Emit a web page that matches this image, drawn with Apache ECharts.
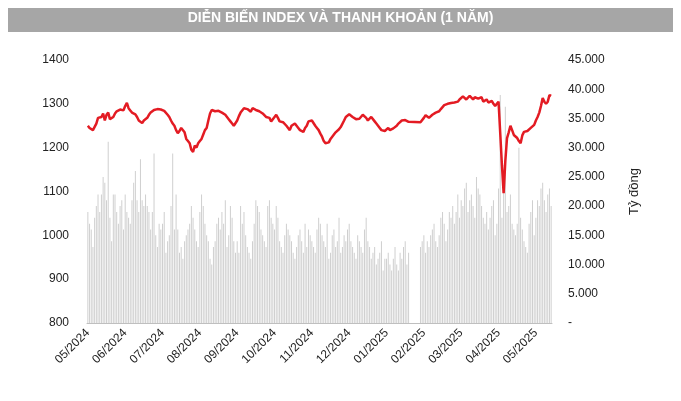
<!DOCTYPE html>
<html><head><meta charset="utf-8">
<script src="https://cdn.jsdelivr.net/npm/echarts@6/dist/echarts.min.js"></script>
<style>html,body{margin:0;background:#fff}#c{width:681px;height:401px}</style>
</head><body><div id="c"></div>
<script>
// Monthly blocks of trading days (VN-Index and turnover, bn VND)
const months = ['05/2024','06/2024','07/2024','08/2024','09/2024','10/2024','11/2024','12/2024','01/2025','02/2025','03/2025','04/2025','05/2025']
const indexByMonth = [
  [1250,1245,1242,1240,1243,1255,1268,1272,1270,1278,1262,1275,1280,1265,1262,1270,1278,1283,1285,1287,1290,1285],
  [1295,1302,1290,1285,1280,1283,1276,1270,1262,1258,1256,1262,1260,1268,1275,1280,1283,1286,1285,1288,1286,1287],
  [1288,1284,1280,1275,1270,1262,1255,1250,1240,1233,1238,1245,1242,1235,1220,1215,1210,1195,1190,1205,1200,1210],
  [1215,1220,1230,1240,1245,1262,1278,1286,1284,1283,1282,1284,1283,1280,1278,1275,1270,1265,1260,1255,1250,1252],
  [1262,1272,1280,1283,1290,1293,1288,1285,1282,1290,1288,1286,1285,1283,1280,1278,1275,1270,1272,1268,1260,1265],
  [1270,1275,1268,1260,1262,1258,1255,1250,1245,1240,1250,1253,1255,1250,1245,1240,1238,1236,1245,1250,1260,1263],
  [1262,1258,1250,1245,1240,1232,1225,1215,1210,1206,1212,1220,1225,1230,1235,1238,1242,1247,1250,1262,1270,1274],
  [1276,1272,1270,1266,1265,1262,1266,1270,1275,1273,1268,1262,1266,1270,1266,1260,1255,1250,1245,1240,1236,1238],
  [1242,1245,1240,1236,1244,1248,1250,1255,1258,1262,1260,1263,1261,1259,null,null,null,null,null,null,1258,1256],
  [1268,1274,1270,1268,1272,1275,1278,1280,1279,1283,1288,1292,1297,1298,1300,1298,1302,1305,1303,1307,1305,1310],
  [1312,1317,1315,1310,1312,1318,1314,1310,1315,1318,1312,1310,1315,1305,1308,1310,1303,1300,1307,1300,1295,1300],
  [1305,1233,1160,1096,1170,1222,1235,1250,1240,1229,1225,1222,1215,1210,1228,1236,1240,1238,1240,1245,1248,1252],
  [1262,1270,1280,1295,1313,1305,1300,1305,1320,1318]
]
const volumeByMonth = [
  [19,17,16,13,18,20,22,19,22,25,24,21,31,18,14,22,22,19,17,20,21,16],
  [22,19,18,17,21,24,26,21,19,28,21,20,22,20,19,16,19,29,15,13,17,16],
  [17,19,12,14,15,20,29,16,22,16,12,13,11,14,15,16,17,20,18,16,14,13],
  [19,22,20,17,15,14,11,10,13,14,17,18,16,19,17,21,13,15,20,18,14,12],
  [14,12,20,17,19,15,13,12,11,14,17,21,20,19,16,15,14,13,20,21,18,17],
  [16,20,18,14,13,12,15,17,16,15,14,12,11,13,15,16,14,12,17,13,16,15],
  [14,13,12,16,18,17,15,14,13,17,11,12,15,16,13,14,18,12,13,15,14,16],
  [17,14,13,12,11,15,14,13,12,16,18,14,13,11,12,13,10,11,12,14,9,11],
  [11,12,10,9,11,13,10,9,12,11,13,14,10,12,null,null,null,null,null,null,13,14],
  [15,12,14,13,15,16,17,14,13,15,18,19,17,14,16,19,18,20,17,19,22,18],
  [21,20,23,24,19,21,22,20,18,25,23,22,20,18,17,19,16,18,20,21,15,17],
  [23,39,18,25,37,19,20,22,17,16,15,17,30,18,16,14,13,12,17,19,21,15],
  [18,21,20,23,24,21,19,22,23,20]
]

const cats = [], idx = [], vol = [], monthStart = new Set()
months.forEach((m, i) => {
  monthStart.add(cats.length)
  indexByMonth[i].forEach((v, d) => {
    cats.push(m + '#' + d)
    idx.push(v)
    vol.push(volumeByMonth[i][d] == null ? null : volumeByMonth[i][d] * 1000)
  })
})

const chart = echarts.init(document.getElementById('c'))
chart.setOption({
  animation: false,
  graphic: [
    { type: 'rect', shape: { x: 8, y: 8, width: 665, height: 24 }, style: { fill: '#a6a6a6' } },
    { type: 'text', left: 'center', top: 11, style: { text: 'DIỄN BIẾN INDEX VÀ THANH KHOẢN (1 NĂM)', fill: '#fff', font: 'bold 14px "Liberation Sans Narrow", "Liberation Sans", sans-serif' } }
  ],
  grid: { left: 87, right: 129, top: 60, bottom: 78 },
  xAxis: {
    type: 'category', data: cats, boundaryGap: true,
    axisLine: { lineStyle: { color: '#bfbfbf' } },
    axisTick: { interval: i => monthStart.has(i), lineStyle: { color: '#bfbfbf' }, alignWithLabel: true },
    axisLabel: { interval: i => monthStart.has(i), formatter: v => v.split('#')[0], rotate: 45, color: '#222', fontSize: 12, fontFamily: 'Liberation Sans' }
  },
  yAxis: [
    { type: 'value', min: 800, max: 1400, interval: 100, splitLine: { show: false },
      axisLabel: { color: '#222', fontSize: 12, fontFamily: 'Liberation Sans', margin: 18, formatter: v => String(v) } },
    { type: 'value', min: 0, max: 45000, interval: 5000, splitLine: { show: false },
      name: 'Tỷ đồng', nameLocation: 'middle', nameGap: 76, nameRotate: 90,
      nameTextStyle: { color: '#222', fontSize: 13, fontFamily: 'Liberation Sans' },
      axisLabel: { color: '#222', fontSize: 12, fontFamily: 'Liberation Sans', margin: 16,
        formatter: v => v === 0 ? '-' : v.toLocaleString('de-DE') } }
  ],
  series: [
    { type: 'bar', yAxisIndex: 1, data: vol, barWidth: '55%', itemStyle: { color: '#cfcfcf' } },
    { type: 'line', yAxisIndex: 0, data: idx, connectNulls: true, symbol: 'none',
      lineStyle: { color: '#e31b23', width: 2.5 } }
  ]
})
</script></body></html>
